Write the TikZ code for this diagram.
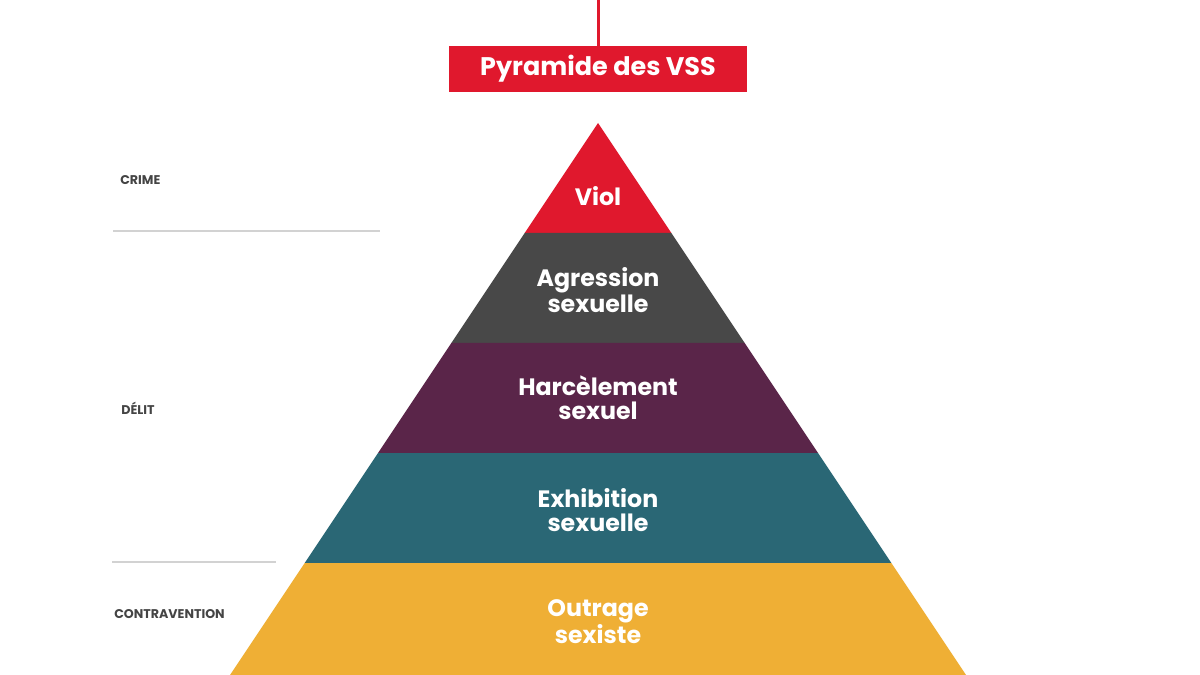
\documentclass[tikz,border=0pt]{standalone}
\usepackage{fontspec}
\setmainfont{Poppins}
\usepackage{xcolor}
\definecolor{vssred}{HTML}{E0182D}
\definecolor{vssgray}{HTML}{484848}
\definecolor{vsspurple}{HTML}{5A2549}
\definecolor{vssteal}{HTML}{2A6775}
\definecolor{vssyellow}{HTML}{EFAF35}
\definecolor{labelgray}{HTML}{444444}
\definecolor{linegray}{HTML}{D2D2D2}
\usetikzlibrary{positioning}

\begin{document}
\begin{tikzpicture}[x=0.02cm, y=-0.02cm,
  every node/.style={font=\bfseries},
  bandtext/.style={text=white, align=center, inner sep=0pt,
                   font=\fontsize{13.5}{13.7}\selectfont\bfseries},
  titlebox/.style={fill=vssred, text=white, minimum width=5.96cm, minimum height=0.92cm,
                   inner sep=0pt, font=\fontsize{14.5}{16}\selectfont\bfseries},
  levellabel/.style={anchor=west, text=labelgray, inner sep=0pt,
                     font=\fontsize{7.2}{8}\selectfont\bfseries},
  sepline/.style={linegray, line width=0.9pt}
]
  \useasboundingbox (0,0) rectangle (1200,675);
  \fill[white] (0,0) rectangle (1200,675);

  % apex at (598,123), slope 2/3
  \newcommand{\vssband}[6]{%
    \fill[#3] ({598-(#1-123)*2/3},#1) -- ({598+(#1-123)*2/3},#1)
      -- ({598+(#2-123)*2/3},#2) -- ({598-(#2-123)*2/3},#2) -- cycle;
    \node[bandtext] (#4) at (598,#5) {#6};
  }

  \vssband{123}{233}{vssred}{viol}{196}{Viol}
  \vssband{233}{343}{vssgray}{agression}{290}{Agression\\sexuelle}
  \vssband{343}{453}{vsspurple}{harcelement}{398}{Harcèlement\\sexuel}
  \vssband{453}{563}{vssteal}{exhibition}{510}{Exhibition\\sexuelle}
  \vssband{563}{675}{vssyellow}{outrage}{622}{Outrage\\sexiste}

  % title
  \coordinate (stem) at (598,0);
  \node[titlebox] (title) at (598,69) {Pyramide des VSS};
  \draw[vssred, line width=1.7pt] (stem) -- (title.north);

  % levels
  \node[levellabel] (crime) at (120,180) {CRIME};
  \node[levellabel] (delit) at (121,408) {DÉLIT};
  \node[levellabel] (contravention) at (114,614) {CONTRAVENTION};
  \draw[sepline] (113,231) -- (380,231);
  \draw[sepline] (112,562) -- (276,562);
\end{tikzpicture}
\end{document}
